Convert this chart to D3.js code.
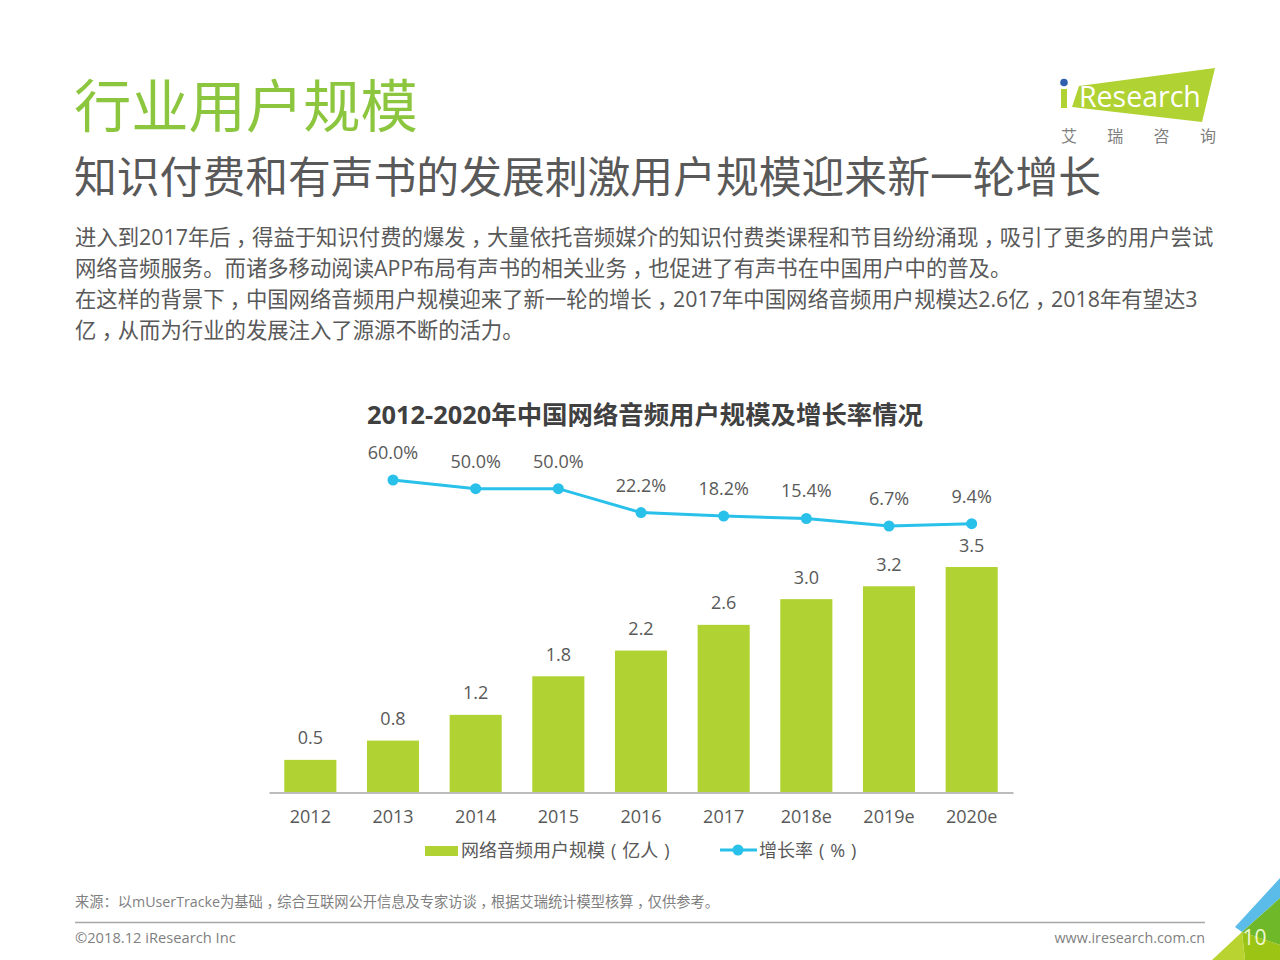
<!DOCTYPE html>
<html>
<head>
<meta charset="utf-8">
<script src="https://cdn.jsdelivr.net/npm/d3@7"></script>
<style>
html,body{margin:0;padding:0;background:#fff;}
svg{display:block;}
text{font-family:"Open Sans","Noto Sans CJK SC",sans-serif;}
.comma{font-feature-settings:"halt";letter-spacing:0.25em;}
</style>
</head>
<body>
<svg id="chart" width="1280" height="960"></svg>
<script>
// datos del grafico
var years = ["2012","2013","2014","2015","2016","2017","2018e","2019e","2020e"];
var users = [0.5,0.8,1.2,1.8,2.2,2.6,3.0,3.2,3.5];
var growth = [60.0,50.0,50.0,22.2,18.2,15.4,6.7,9.4];
var growthYears = ["2013","2014","2015","2016","2017","2018e","2019e","2020e"];

var bodyLines = [
  "进入到2017年后，得益于知识付费的爆发，大量依托音频媒介的知识付费类课程和节目纷纷涌现，吸引了更多的用户尝试",
  "网络音频服务。而诸多移动阅读APP布局有声书的相关业务，也促进了有声书在中国用户中的普及。",
  "在这样的背景下，中国网络音频用户规模迎来了新一轮的增长，2017年中国网络音频用户规模达2.6亿，2018年有望达3",
  "亿，从而为行业的发展注入了源源不断的活力。"
];

var svg = d3.select("#chart");
var grey = "#595959";
var lime = "#b0d232";
var blue = "#29c0ea";

// la coma va centrada en su caja: media anchura (halt) con aire a los dos lados
function addText(sel, str) {
  str.split(/(，)/).forEach(function(part) {
    if (part === "") return;
    var t = sel.append("tspan").text(part);
    if (part === "，") t.attr("class","comma").attr("dx","0.25em");
  });
}

// titulos
svg.append("text").attr("x",74).attr("y",127).attr("font-size",57.3).attr("fill","#8cc63f").text("行业用户规模");
svg.append("text").attr("x",74).attr("y",193).attr("font-size",42.8).attr("fill",grey).text("知识付费和有声书的发展刺激用户规模迎来新一轮增长");

svg.selectAll(".body").data(bodyLines).enter().append("text")
  .attr("class","body")
  .attr("x",75)
  .attr("y",(d,i) => 245 + i*31)
  .attr("font-size",21.36)
  .attr("fill",grey)
  .each(function(d) { addText(d3.select(this), d); });

// logo
var logo = svg.append("g");
logo.append("path").attr("d","M1079 86L1215 68L1202 122L1072 107Z").attr("fill",lime);
logo.append("circle").attr("cx",1064).attr("cy",82.5).attr("r",3.8).attr("fill","#2f5fae");
logo.append("rect").attr("x",1061).attr("y",89).attr("width",6).attr("height",19).attr("fill",lime);
logo.append("text").attr("x",1079).attr("y",107).attr("font-size",28.5).attr("fill","#fff").text("Research");
["艾","瑞","咨","询"].forEach((c,i) => {
  logo.append("text").attr("x",1069 + i*46.3).attr("y",142).attr("font-size",16)
    .attr("text-anchor","middle").attr("fill","#7f7f7f").text(c);
});

// titulo de la grafica
svg.append("text").attr("x",645).attr("y",424).attr("text-anchor","middle")
  .attr("font-size",25.4).attr("font-weight",700).attr("fill","#404040")
  .text("2012-2020年中国网络音频用户规模及增长率情况");

// escalas
var x = d3.scaleBand().domain(years).range([269,1013]).paddingInner(0.37).paddingOuter(0.185);
var y = d3.scaleLinear().domain([0,3.5]).range([792,567]);
var yLine = d3.scaleLinear().domain([6.7,60]).range([526,480]);
var cx = d => x(d) + x.bandwidth()/2;

// barras
svg.selectAll(".bar").data(users).enter().append("rect")
  .attr("class","bar")
  .attr("x",(d,i) => x(years[i]))
  .attr("y",d => y(d))
  .attr("width",x.bandwidth())
  .attr("height",d => y(0)-y(d))
  .attr("fill",lime);

svg.selectAll(".barlabel").data(users).enter().append("text")
  .attr("class","barlabel")
  .attr("x",(d,i) => cx(years[i]))
  .attr("y",d => y(d)-15.5)
  .attr("text-anchor","middle").attr("font-size",18).attr("fill",grey)
  .text(d => d.toFixed(1));

// eje x
var axis = svg.append("g").attr("transform","translate(0,792.5)")
  .call(d3.axisBottom(x).tickSize(0).tickPadding(18));
axis.select(".domain").attr("stroke","#a6a6a6").attr("stroke-width",1.5);
axis.selectAll("text").attr("font-size",18).attr("fill",grey)
  .style("font-family",'"Open Sans","Noto Sans CJK SC",sans-serif');

// linea de crecimiento
var line = d3.line().x((d,i) => cx(growthYears[i])).y(d => yLine(d));
svg.append("path").datum(growth).attr("d",line).attr("fill","none").attr("stroke",blue).attr("stroke-width",3);
svg.selectAll(".dot").data(growth).enter().append("circle")
  .attr("class","dot")
  .attr("cx",(d,i) => cx(growthYears[i]))
  .attr("cy",d => yLine(d))
  .attr("r",5.5)
  .attr("fill",blue);
svg.selectAll(".linelabel").data(growth).enter().append("text")
  .attr("class","linelabel")
  .attr("x",(d,i) => cx(growthYears[i]))
  .attr("y",d => yLine(d)-21)
  .attr("text-anchor","middle").attr("font-size",18).attr("fill",grey)
  .text(d => d.toFixed(1)+"%");

// leyenda
svg.append("rect").attr("x",425).attr("y",846).attr("width",33).attr("height",10).attr("fill",lime);
svg.append("text").attr("x",461).attr("y",857).attr("font-size",18).attr("fill",grey)
  .style("word-spacing","1.3px")
  .text("网络音频用户规模 ( 亿人 )");
svg.append("line").attr("x1",720).attr("x2",757).attr("y1",850).attr("y2",850).attr("stroke",blue).attr("stroke-width",3);
svg.append("circle").attr("cx",738).attr("cy",850).attr("r",5.5).attr("fill",blue);
svg.append("text").attr("x",759).attr("y",857).attr("font-size",18).attr("fill",grey)
  .style("word-spacing","1.3px")
  .text("增长率 ( % )");

// pie de pagina
svg.append("text").attr("x",75).attr("y",907).attr("font-size",14.25).attr("fill","#7f7f7f")
  .call(addText,"来源：以mUserTracke为基础，综合互联网公开信息及专家访谈，根据艾瑞统计模型核算，仅供参考。");
svg.append("line").attr("x1",75).attr("x2",1205).attr("y1",922.5).attr("y2",922.5).attr("stroke","#a6a6a6").attr("stroke-width",1.5);
svg.append("text").attr("x",75).attr("y",943).attr("font-size",14.7).attr("fill","#7f7f7f").text("©2018.12 iResearch Inc");
svg.append("text").attr("x",1205).attr("y",943).attr("text-anchor","end").attr("font-size",14.3).attr("fill","#7f7f7f").text("www.iresearch.com.cn");

// esquina
svg.append("path").attr("d","M1235 927L1280 878L1280 898L1242 932Z").attr("fill","#5bbcea");
svg.append("path").attr("d","M1242 932L1280 898L1280 945Z").attr("fill","#6fb82a");
svg.append("path").attr("d","M1242 932L1280 945L1280 960L1245 960Z").attr("fill","#9cc414");
svg.append("path").attr("d","M1212 960L1242 932L1245 960Z").attr("fill","#b9d431");
svg.append("text").attr("x",1254.5).attr("y",945).attr("text-anchor","middle").attr("font-size",21).attr("fill","#f0f8d0").text("10");
</script>
</body>
</html>
